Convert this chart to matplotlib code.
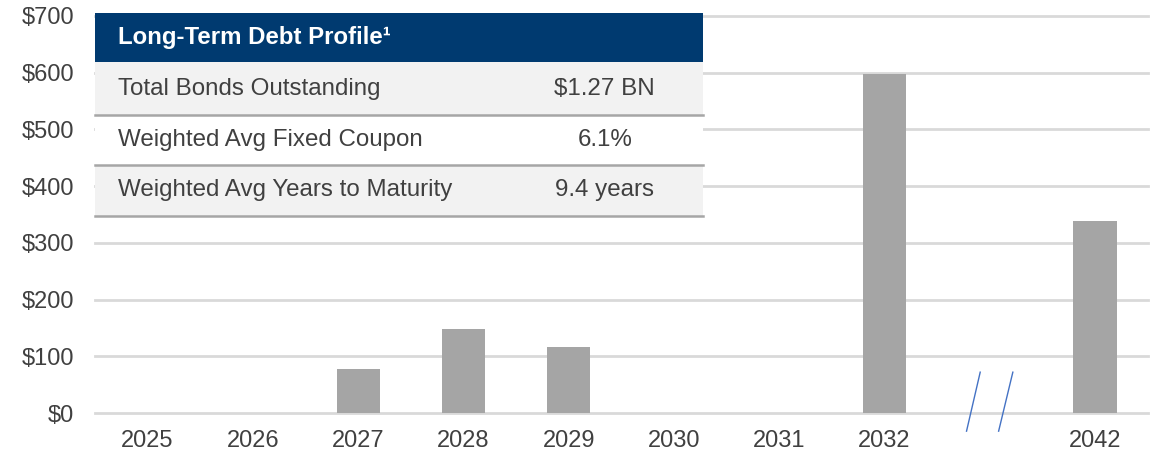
import matplotlib
matplotlib.use("Agg")
import matplotlib.pyplot as plt
from matplotlib.patches import Rectangle

plt.rcParams['font.family'] = ['Liberation Sans', 'DejaVu Sans']

years = ["2025", "2026", "2027", "2028", "2029", "2030", "2031", "2032", "", "2042"]
amounts = [0, 0, 78, 148, 117, 0, 0, 598, 0, 338]
y_ticks = [0, 100, 200, 300, 400, 500, 600, 700]
y_labels = ["$" + str(v) for v in y_ticks]

table_title = "Long-Term Debt Profile\u00b9"
table_labels = ["Total Bonds Outstanding", "Weighted Avg Fixed Coupon",
                "Weighted Avg Years to Maturity"]
table_values = ["$1.27 BN", "6.1%", "9.4 years"]

bar_color = "#a5a5a5"
grid_color = "#d9d9d9"
text_color = "#404040"
navy = "#003a70"

fig = plt.figure(figsize=(11.58, 4.54), dpi=100)
ax = fig.add_axes([0.082, 0.0903, 0.909, 0.8745])

x = list(range(len(years)))
ax.bar(x, amounts, width=0.41, color=bar_color, zorder=2)

ax.set_xlim(-0.5, len(years) - 0.5)
ax.set_ylim(0, 700)
ax.set_yticks(y_ticks)
ax.set_yticklabels(y_labels)
ax.set_xticks(x)
ax.set_xticklabels(years)
ax.tick_params(axis="both", length=0, labelsize=17, labelcolor=text_color)
ax.tick_params(axis="y", pad=15)
ax.tick_params(axis="x", pad=12)
ax.grid(axis="y", color=grid_color, linewidth=2, zorder=0)
for gl in ax.get_ygridlines():
    gl.set_clip_on(False)
ax.set_axisbelow(True)
for s in ax.spines.values():
    s.set_visible(False)

# axis break marks between 2032 and 2042
ax.plot([7.78, 7.91], [-32, 72], color="#4472c4", lw=1, clip_on=False, zorder=3)
ax.plot([8.085, 8.22], [-32, 72], color="#4472c4", lw=1, clip_on=False, zorder=3)

# summary table (axes fraction)
tw = 0.5774
edges = [1.0076, 0.884, 0.7506, 0.6247, 0.4962]
ax.add_patch(Rectangle((0, edges[1]), tw, edges[0] - edges[1], transform=ax.transAxes,
                       facecolor=navy, edgecolor="none", clip_on=False, zorder=5))
ax.text(0.0218, (edges[0] + edges[1]) / 2, table_title, transform=ax.transAxes,
        color="white", fontsize=17.3, fontweight="bold", va="center", ha="left", zorder=6)
fills = ["#f2f2f2", "white", "#f2f2f2"]
for i in range(len(table_labels)):
    top, bot = edges[i + 1], edges[i + 2]
    ax.add_patch(Rectangle((0, bot), tw, top - bot, transform=ax.transAxes,
                           facecolor=fills[i], edgecolor="none", clip_on=False, zorder=5))
    ax.plot([0, tw], [bot, bot], transform=ax.transAxes, color="#a6a6a6", lw=1.8,
            clip_on=False, zorder=6)
    ax.text(0.0218, (top + bot) / 2, table_labels[i], transform=ax.transAxes,
            color=text_color, fontsize=17.4, va="center", ha="left", zorder=6)
    ax.text(0.4843, (top + bot) / 2, table_values[i], transform=ax.transAxes,
            color=text_color, fontsize=17.4, va="center", ha="center", zorder=6)

fig.savefig("out.png", dpi=100)
